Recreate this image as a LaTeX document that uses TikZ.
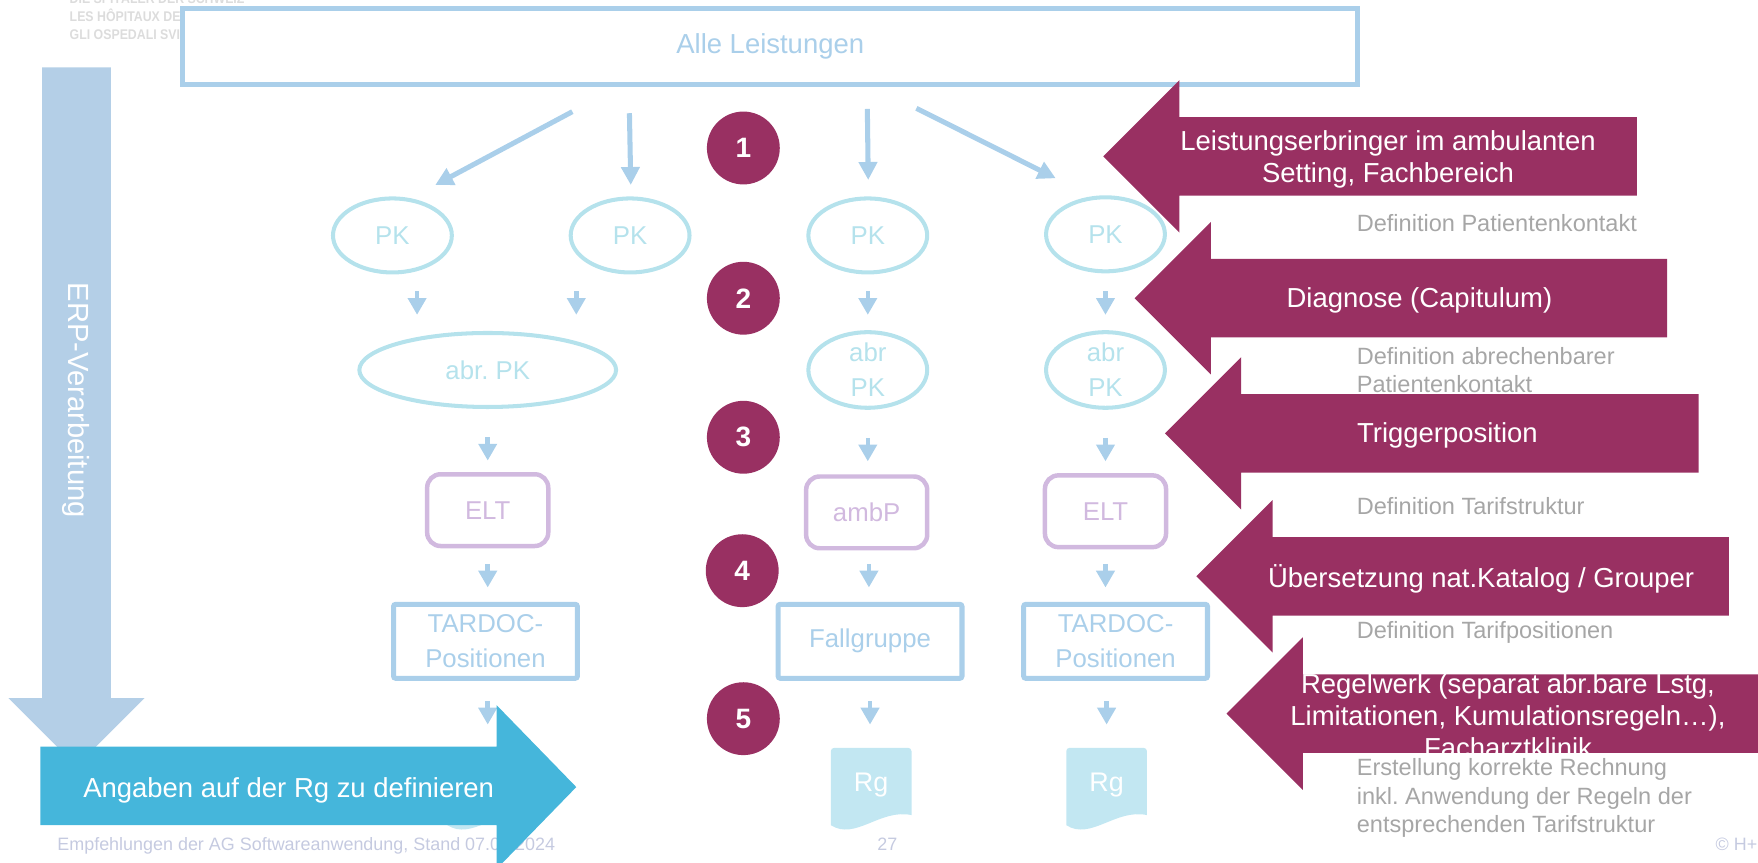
\documentclass[tikz,border=0pt]{standalone}
\usepackage{fontspec}
\setmainfont{Liberation Sans}
\usetikzlibrary{arrows.meta,shapes.geometric,calc}
\frenchspacing
\definecolor{boxblue}{HTML}{AACFEA}
\definecolor{erpblue}{HTML}{B4CFE7}
\definecolor{pkcyan}{HTML}{B5E2EC}
\definecolor{lav}{HTML}{D1B9DF}
\definecolor{cyanarr}{HTML}{45B6DB}
\definecolor{purp}{HTML}{993062}
\definecolor{rgfill}{HTML}{C2E7F2}
\definecolor{labgray}{HTML}{A6A6A6}
\definecolor{footc}{HTML}{C5CAE0}
\definecolor{logogray}{HTML}{DCDCDC}
\newcommand{\rgdoc}[1]{%
  \fill[rgfill] ({#1-36},736) -- ({#1-36},670) arc[start angle=180,end angle=270,radius=3]
   -- ({#1+33},667) arc[start angle=270,end angle=360,radius=3]
   -- ({#1+36},727) .. controls ({#1+8},721) and ({#1-14},750) .. ({#1-36},736) -- cycle;}
\newcommand{\purarrow}[3]{%
  \fill[purp] ({#1-68},#2) -- (#1,{#2-68}) -- (#1,{#2-35}) -- (#3,{#2-35})
   -- (#3,{#2+35}) -- (#1,{#2+35}) -- (#1,{#2+68}) -- cycle;}
\begin{document}
\frenchspacing
\begin{tikzpicture}[x=1pt,y=-1pt,
  logo/.style={text=logogray,font=\bfseries\fontsize{12.5}{14}\selectfont,inner sep=0pt},
  pk/.style={ellipse,draw=pkcyan,line width=3.6pt,minimum width=106pt,minimum height=66pt,inner sep=0pt,text=pkcyan,font=\fontsize{23}{31}\selectfont,align=center},
  eltbox/.style={rectangle,rounded corners=12pt,draw=lav,line width=4pt,minimum width=108pt,minimum height=64pt,inner sep=0pt,text=lav,font=\fontsize{23}{31}\selectfont},
  tarbox/.style={rectangle,rounded corners=2pt,draw=boxblue,line width=4.5pt,minimum width=164pt,minimum height=66pt,inner sep=0pt,text=boxblue,font=\fontsize{23}{31}\selectfont,align=center},
  rgtext/.style={text=white,inner sep=0pt,font=\fontsize{24}{28}\selectfont},
  numc/.style={circle,fill=purp,minimum size=65pt,inner sep=0pt,text=white,font=\bfseries\fontsize{25}{29}\selectfont},
  bigarr/.style={draw=boxblue,line width=4.5pt,-{Triangle[width=16pt,length=16pt]}},
  sarr/.style={draw=boxblue,line width=4pt,-{Triangle[width=16pt,length=15pt]}},
  ptext/.style={text=white,inner sep=0pt,align=center,font=\fontsize{24.5}{29}\selectfont},
  glabel/.style={text=labgray,inner sep=0pt,align=left,anchor=base west,font=\fontsize{21}{25.3}\selectfont},
  foot/.style={text=footc,inner sep=0pt,font=\fontsize{16}{19}\selectfont}]
\useasboundingbox (0,0) rectangle (1568,769.7);
% logo
\node[logo,anchor=base west] (logo1) at (62,3.4) {\scalebox{0.88}[1]{DIE SPITÄLER DER SCHWEIZ}};
\node[logo,anchor=base west] (logo2) at (62,19.2) {\scalebox{0.88}[1]{LES HÔPITAUX DE SUISSE}};
\node[logo,anchor=base west] (logo3) at (62,35) {\scalebox{0.88}[1]{GLI OSPEDALI SVIZZERI}};
% top box
\node[draw=boxblue,line width=4.5pt,fill=white,minimum width=1048pt,minimum height=67pt,inner sep=0pt,
  text=boxblue,font=\fontsize{24.5}{29}\selectfont] (alle) at (687,41.5) {Alle Leistungen};
% ERP arrow
\fill[erpblue] (37.5,60) -- (99,60) -- (99,622.6) -- (129,622.6) -- (68.25,683.4) -- (7.5,622.6) -- (37.5,622.6) -- cycle;
\node[rotate=-90,text=white,inner sep=0pt,font=\fontsize{26}{30}\selectfont] (erp) at (68,357) {ERP-Verarbeitung};
% row nodes
\node[pk] (pk1) at (350,210) {PK};
\node[pk] (pk2) at (562,210) {PK};
\node[pk] (pk3) at (774,210) {PK};
\node[pk] (pk4) at (986,209) {PK};
\node[pk,minimum width=229pt] (abr1) at (435,330) {abr. PK};
\node[pk] (abr3) at (774,330) {abr\\PK};
\node[pk] (abr4) at (986,330) {abr\\PK};
\node[eltbox] (elt1) at (435,455) {ELT};
\node[eltbox] (amb) at (773,457) {ambP};
\node[eltbox] (elt3) at (986,456) {ELT};
\node[tarbox] (tar1) at (433,572) {TARDOC-\\Positionen};
\node[tarbox] (fall) at (776,572) {Fallgruppe};
\node[tarbox] (tar3) at (995,572) {TARDOC-\\Positionen};
\rgdoc{435}
\rgdoc{777}
\rgdoc{987}
\node[rgtext] (rg1) at (435,700) {Rg};
\node[rgtext] (rg2) at (777,700) {Rg};
\node[rgtext] (rg3) at (987,700) {Rg};
% top arrows
\coordinate (a1) at (510.5,99.6); \coordinate (a2) at (388.2,165);
\coordinate (b1) at (561.4,101);  \coordinate (b2) at (562.6,165);
\coordinate (c1) at (773.6,97.2); \coordinate (c2) at (774.4,160.5);
\coordinate (d1) at (817.4,96.6); \coordinate (d2) at (941.6,159);
\draw[bigarr] (a1) -- (a2);
\draw[bigarr] (b1) -- (b2);
\draw[bigarr] (c1) -- (c2);
\draw[bigarr] (d1) -- (d2);
% small arrows
\draw[sarr] ($(pk1.south)+(22,15)$) -- ++(0,21);
\draw[sarr] ($(pk2.south)+(-48,15)$) -- ++(0,21);
\draw[sarr] ($(pk3.south)+(0,15)$) -- ++(0,21);
\draw[sarr] ($(pk4.south)+(0,16)$) -- ++(0,21);
\draw[sarr] ($(abr1.south)+(0,25)$) -- ++(0,21);
\draw[sarr] ($(abr3.south)+(0,25)$) -- ++(0,21);
\draw[sarr] ($(abr4.south)+(0,25)$) -- ++(0,21);
\draw[sarr] ($(elt1.south)+(0,14)$) -- ++(0,21);
\draw[sarr] ($(amb.south)+(2,12)$) -- ++(0,21);
\draw[sarr] ($(elt3.south)+(0,13)$) -- ++(0,21);
\draw[sarr] ($(tar1.south)+(2,18)$) -- ++(0,21);
\draw[sarr] ($(fall.south)+(0,18)$) -- ++(0,21);
\draw[sarr] ($(tar3.south)+(-8,18)$) -- ++(0,21);
% footer
\node[foot,anchor=base west] (foot) at (51,758.5) {Empfehlungen der AG Softwareanwendung, Stand 07.04.2024};
\node[foot,anchor=base] (page) at (791.5,758.5) {27};
\node[foot,anchor=base west] (copy) at (1530,758.5) {© H+};
% cyan arrow
\fill[cyanarr] (36,666) -- (443,666) -- (443,629) -- (514,702) -- (443,775) -- (443,736) -- (36,736) -- cycle;
\node[text=white,inner sep=0pt,font=\fontsize{24.5}{29}\selectfont] (ang) at (257.5,705) {Angaben auf der Rg zu definieren};
% number circles
\node[numc] (n1) at (663,132) {1};
\node[numc] (n2) at (663,266) {2};
\node[numc] (n3) at (663,390) {3};
\node[numc] (n4) at (662,509) {4};
\node[numc] (n5) at (663,641) {5};
% gray labels (base = last line)
\node[glabel] (g1) at (1210,206.5) {Definition Patientenkontakt};
\node[glabel] (g2) at (1210,350.5) {Definition abrechenbarer\\Patientenkontakt};
\node[glabel] (g3) at (1210,458.5) {Definition Tarifstruktur};
\node[glabel] (g4) at (1210,569.3) {Definition Tarifpositionen};
% purple arrows
\purarrow{1052}{139.5}{1460}
\node[ptext] (p1) at (1238,142) {Leistungserbringer im ambulanten\\Setting, Fachbereich};
\purarrow{1080}{266}{1487}
\node[ptext] (p2) at (1266,268) {Diagnose (Capitulum)};
\purarrow{1107}{386.5}{1515}
\node[ptext] (p3) at (1291,388.5) {Triggerposition};
\purarrow{1135}{514}{1542}
\node[ptext] (p4) at (1321,516) {Übersetzung nat.Katalog / Grouper};
\purarrow{1162}{636.5}{1600}
\node[ptext,font=\fontsize{24.5}{28.5}\selectfont] (p5) at (1345,638) {Regelwerk (separat abr.bare Lstg,\\Limitationen, Kumulationsregeln…),\\Facharztklinik};
\node[glabel] (g5) at (1210,742.7) {Erstellung korrekte Rechnung\\inkl. Anwendung der Regeln der\\entsprechenden Tarifstruktur};
\end{tikzpicture}
\end{document}
